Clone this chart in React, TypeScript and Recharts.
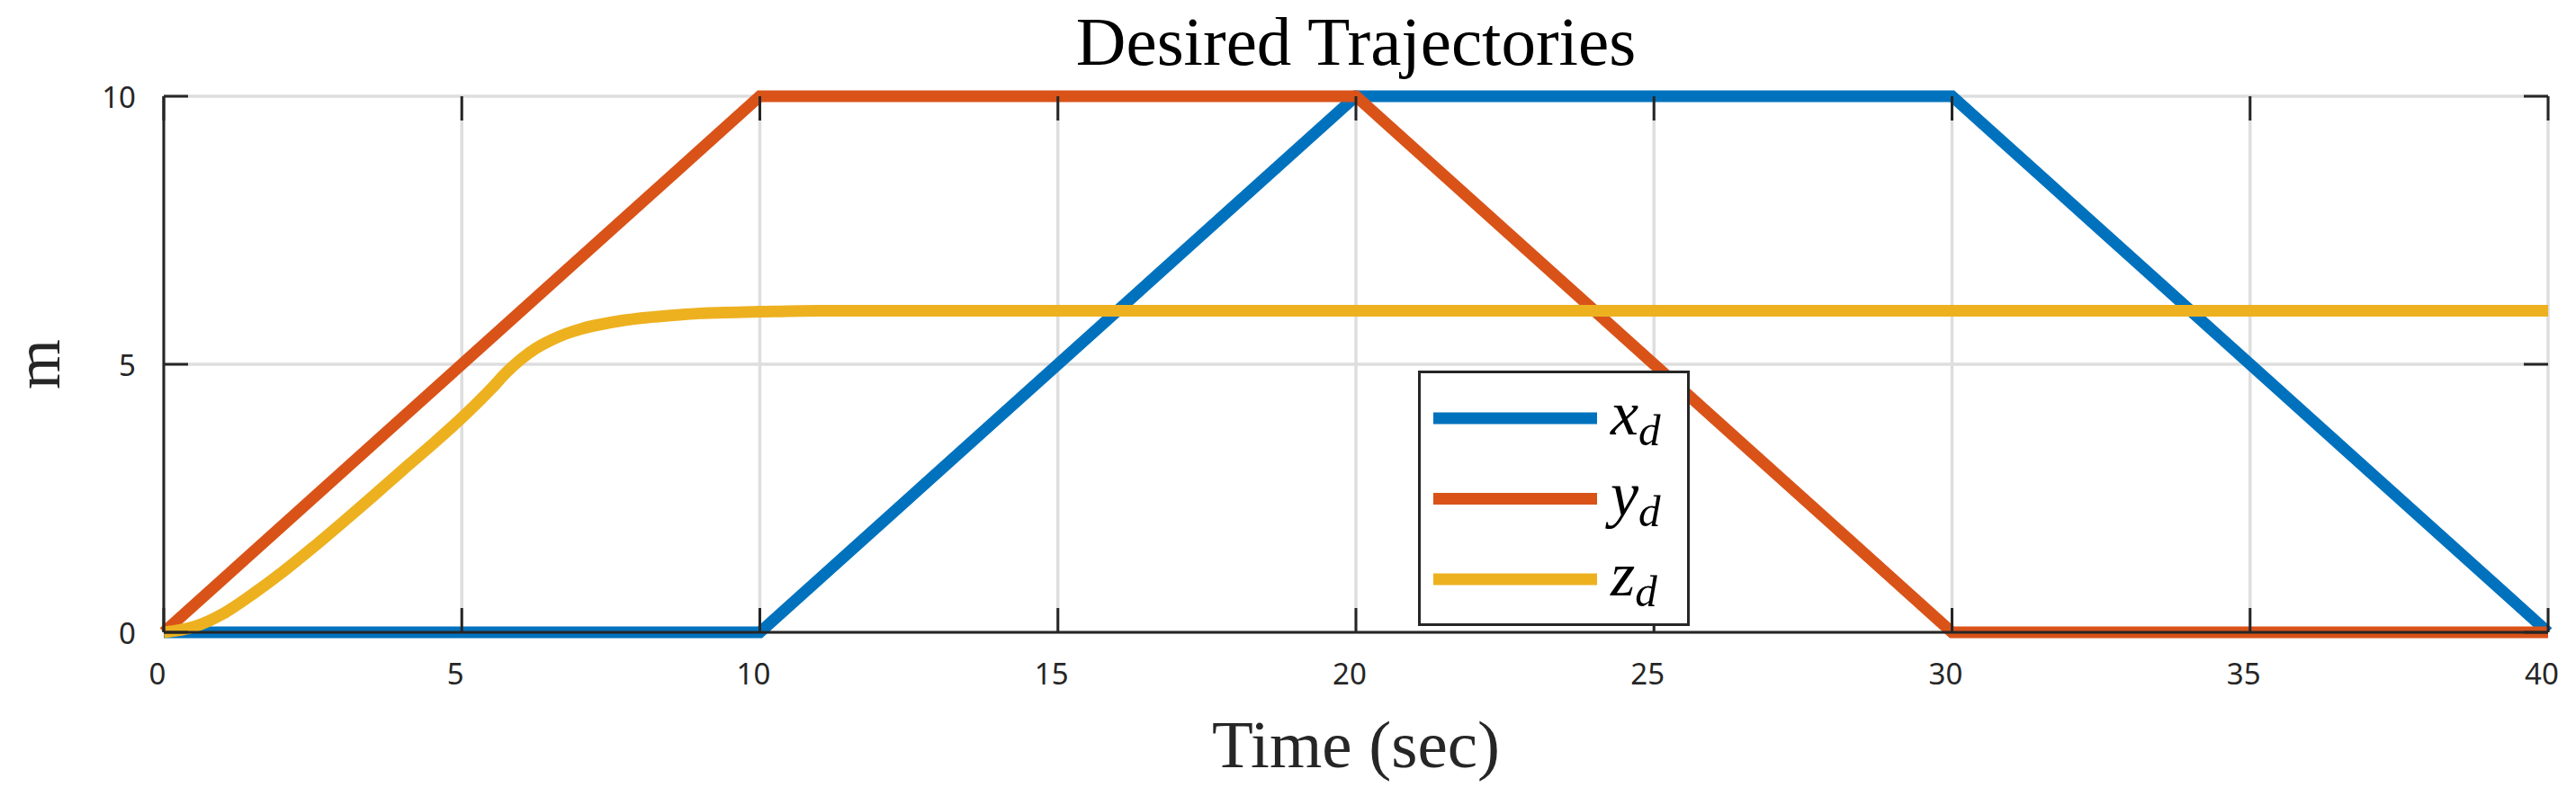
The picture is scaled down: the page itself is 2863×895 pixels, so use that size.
import React from "react";
import { LineChart, Line, XAxis, YAxis, CartesianGrid, Legend, Label } from "recharts";

// desired trajectories (time in sec, position in m)
const xdTime = [0, 10, 20, 30, 40];
const xdVal = [0, 0, 10, 10, 0];
const ydTime = [0, 10, 20, 30, 40];
const ydVal = [0, 10, 10, 0, 0];
const zdTime = [0, 0.5, 1, 1.5, 2, 2.5, 3, 3.5, 4, 4.5, 5, 5.5, 5.75, 6, 6.25, 6.5, 6.75, 7, 7.5, 8, 8.5, 9, 10, 11, 40];
const zdVal = [0, 0.1, 0.35, 0.72, 1.13, 1.58, 2.05, 2.53, 3.02, 3.5, 4.0, 4.55, 4.85, 5.1, 5.3, 5.45, 5.57, 5.66, 5.78, 5.86, 5.91, 5.95, 5.98, 6, 6];

const xTicks = [0, 5, 10, 15, 20, 25, 30, 35, 40];
const yTicks = [0, 5, 10];
const seriesNames = ["x_d", "y_d", "z_d"];
const seriesColors = ["#0072BD", "#D95319", "#EDB120"];

const toRows = (t: number[], v: number[]) => t.map((tt, i) => ({ t: tt, v: v[i] }));
const series = [toRows(xdTime, xdVal), toRows(ydTime, ydVal), toRows(zdTime, zdVal)];

const W = 2850;
const H = 880;
const M = { top: 107, right: 18, left: 0, bottom: 77 };
const PLOT_TOP = M.top;
const PLOT_RIGHT = W - M.right;
const TICK_LEN = 27;
const AXIS = "#262626";
const SERIF = "'Liberation Serif', 'Times New Roman', serif";
const SANS = "'Noto Sans', 'DejaVu Sans', sans-serif";

const XTick = (props: any) => {
  const { x, y, payload } = props;
  return (
    <g>
      <line x1={x} x2={x} y1={y} y2={y - TICK_LEN} stroke={AXIS} strokeWidth={3} />
      <line x1={x} x2={x} y1={PLOT_TOP} y2={PLOT_TOP + TICK_LEN} stroke={AXIS} strokeWidth={3} />
      <text x={x - 7} y={y + 45} textAnchor="middle" dominantBaseline="central" fontFamily={SANS} fontSize={33} fill={AXIS}>
        {payload.value}
      </text>
    </g>
  );
};

const YTick = (props: any) => {
  const { x, y, payload } = props;
  return (
    <g>
      <line x1={x} x2={x + TICK_LEN} y1={y} y2={y} stroke={AXIS} strokeWidth={3} />
      <line x1={PLOT_RIGHT - TICK_LEN} x2={PLOT_RIGHT} y1={y} y2={y} stroke={AXIS} strokeWidth={3} />
      <text x={x - 31} y={y} textAnchor="end" dominantBaseline="central" fontFamily={SANS} fontSize={33} fill={AXIS}>
        {payload.value}
      </text>
    </g>
  );
};

const renderTitle = (props: any) => {
  const vb = props.viewBox;
  return (
    <text x={vb.x + vb.width / 2} y={72} textAnchor="middle" fontFamily={SERIF} fontSize={77} fill="#000">
      Desired Trajectories
    </text>
  );
};

const renderXLabel = (props: any) => {
  const vb = props.viewBox;
  return (
    <text x={vb.x + vb.width / 2} y={853} textAnchor="middle" fontFamily={SERIF} fontSize={75} fill={AXIS}>
      Time (sec)
    </text>
  );
};

const renderYLabel = (props: any) => {
  const vb = props.viewBox;
  const cy = vb.y + vb.height / 2;
  return (
    <text x={66} y={cy} transform={`rotate(-90 66 ${cy})`} textAnchor="middle" fontFamily={SERIF} fontSize={72} fill={AXIS}>
      m
    </text>
  );
};

const renderLegend = (props: any) => {
  const payload = props.payload || [];
  return (
    <div style={{ width: 302, height: 284, border: `3px solid ${AXIS}`, background: "#fff", boxSizing: "border-box" }}>
      <svg width={296} height={278} style={{ display: "block" }}>
        {payload.map((p: any, i: number) => {
          const cy = 50 + i * 89.5;
          const [base, sub] = String(p.value).split("_");
          return (
            <g key={i}>
              <line x1={14} x2={196} y1={cy} y2={cy} stroke={p.color} strokeWidth={13} />
              <text x={211} y={cy + 18} fontFamily={SERIF} fontStyle="italic" fill="#000">
                <tspan fontSize={70}>{base}</tspan>
                <tspan fontSize={49} dy={12}>{sub}</tspan>
              </text>
            </g>
          );
        })}
      </svg>
    </div>
  );
};

export default function App() {
  return (
    <div style={{ position: "absolute", left: 0, top: 0 }}>
      <LineChart width={W} height={H} margin={M}>
        <CartesianGrid stroke="#dedede" strokeWidth={3.5} />
        <XAxis
          dataKey="t"
          type="number"
          domain={[0, 40]}
          ticks={xTicks}
          height={100}
          axisLine={{ stroke: AXIS, strokeWidth: 3 }}
          tickLine={false}
          tickSize={0}
          tickMargin={0}
          tick={<XTick />}
          interval={0}
          allowDuplicatedCategory={false}
        >
          <Label content={renderXLabel} />
          <Label content={renderTitle} />
        </XAxis>
        <XAxis
          xAxisId="top"
          orientation="top"
          dataKey="t"
          type="number"
          domain={[0, 40]}
          height={0}
          axisLine={{ stroke: AXIS, strokeWidth: 3 }}
          tick={false}
          tickLine={false}
        />
        <YAxis
          type="number"
          domain={[0, 10]}
          ticks={yTicks}
          width={182}
          axisLine={{ stroke: AXIS, strokeWidth: 3 }}
          tickLine={false}
          tickSize={0}
          tickMargin={0}
          tick={<YTick />}
          interval={0}
        >
          <Label content={renderYLabel} />
        </YAxis>
        <YAxis
          yAxisId="right"
          orientation="right"
          type="number"
          domain={[0, 10]}
          width={0}
          axisLine={{ stroke: AXIS, strokeWidth: 3 }}
          tick={false}
          tickLine={false}
        />
        {series.map((d, i) => (
          <Line
            key={seriesNames[i]}
            data={d}
            dataKey="v"
            name={seriesNames[i]}
            type={i === 2 ? "monotone" : "linear"}
            stroke={seriesColors[i]}
            strokeWidth={13}
            dot={false}
            activeDot={false}
            isAnimationActive={false}
          />
        ))}
        <Legend
          layout="horizontal"
          verticalAlign="middle"
          align="center"
          content={renderLegend}
          wrapperStyle={{ position: "absolute", left: 1576, top: 412, width: 302, height: 284 }}
        />
      </LineChart>
    </div>
  );
}
